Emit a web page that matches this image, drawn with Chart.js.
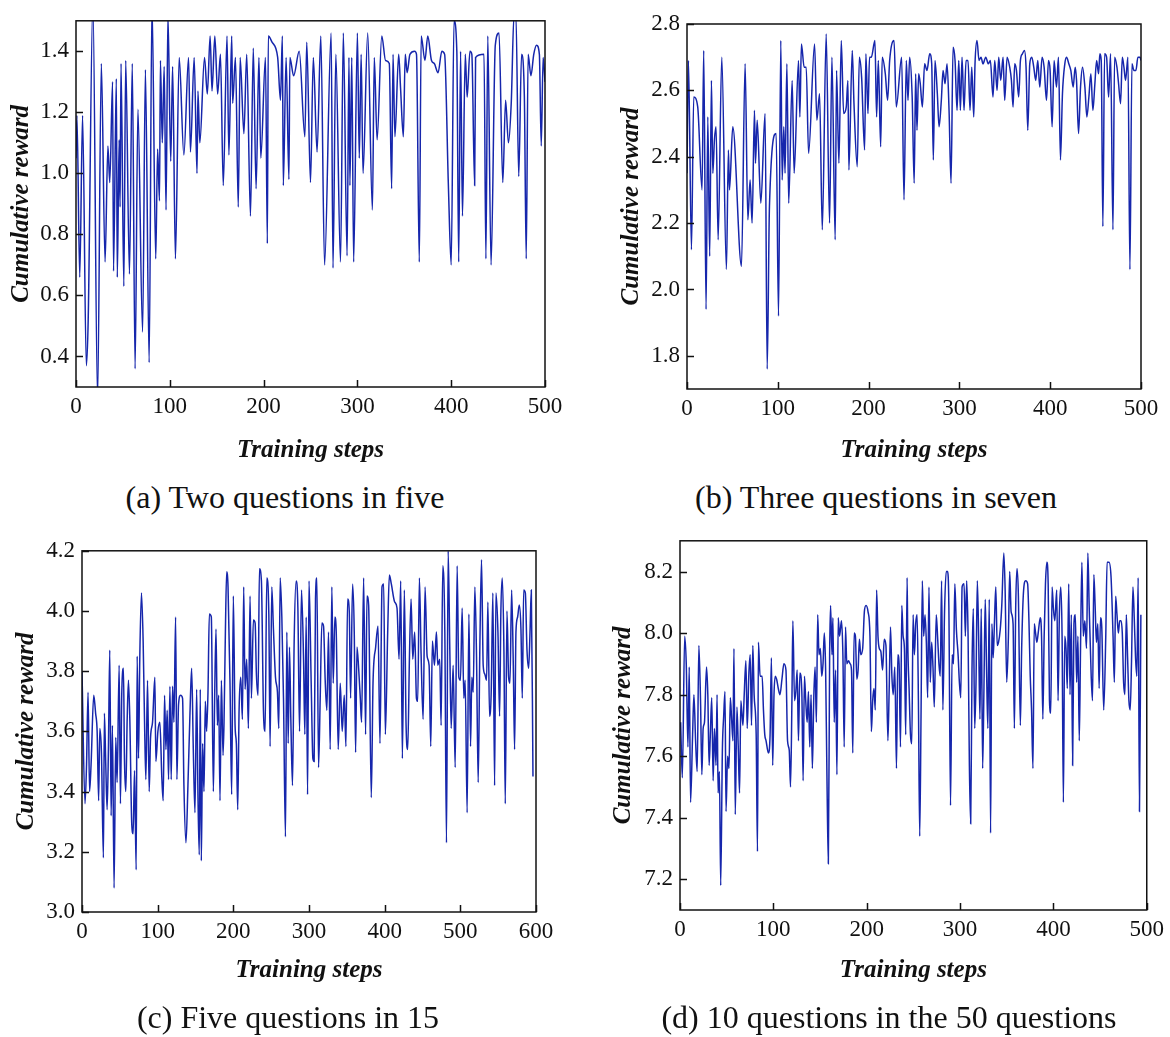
<!DOCTYPE html>
<html>
<head>
<meta charset="utf-8">
<script src="https://cdn.jsdelivr.net/npm/chart.js@4.4.1/dist/chart.umd.min.js"></script>
<style>
  html, body { margin: 0; padding: 0; background: #fff; }
  #page { position: relative; width: 1170px; height: 1037px; overflow: hidden; }
  .panel { position: absolute; }
  .caption {
    position: absolute; width: 600px; height: 34px; line-height: 34px;
    text-align: center; font-family: 'Liberation Serif', 'Times New Roman', serif;
    font-size: 32px; color: #111; white-space: nowrap;
  }
</style>
</head>
<body>
<div id="page">
  <div class="panel" id="boxA" style="left:0px;top:0px;width:585px;height:470px;"><canvas id="chartA"></canvas></div>
  <div class="panel" id="boxB" style="left:600px;top:0px;width:570px;height:470px;"><canvas id="chartB"></canvas></div>
  <div class="panel" id="boxC" style="left:0px;top:530px;width:585px;height:470px;"><canvas id="chartC"></canvas></div>
  <div class="panel" id="boxD" style="left:600px;top:520px;width:570px;height:475px;"><canvas id="chartD"></canvas></div>

  <div class="caption" style="left:-15px;top:480px;">(a) Two questions in five</div>
  <div class="caption" style="left:576px;top:480px;">(b) Three questions in seven</div>
  <div class="caption" style="left:-12px;top:1000px;">(c) Five questions in 15</div>
  <div class="caption" style="left:589px;top:1000px;">(d) 10 questions in the 50 questions</div>
</div>

<script>
'use strict';

// ---- data ----

// (a) Two questions in five
const stepsA = [
  0, 1, 4, 7, 11, 13, 18, 23, 27, 31,
  34, 36, 39, 40, 43, 44, 46, 47, 48, 51,
  53, 57, 60, 63, 66, 71, 74, 78, 81, 85,
  87, 89, 90, 92, 94, 96, 98, 101, 103, 106,
  110, 115, 120, 122, 126, 129, 130, 132, 137, 140,
  143, 145, 148, 151, 154, 157, 161, 163, 166, 167,
  170, 173, 175, 179, 182, 186, 189, 192, 195, 197,
  202, 204, 205, 209, 215, 218, 220, 221, 224, 227,
  228, 232, 238, 244, 246, 250, 253, 257, 261, 265,
  272, 274, 277, 282, 285, 289, 291, 292, 294, 296,
  300, 302, 304, 306, 311, 316, 318, 321, 326, 330,
  334, 336.5, 338, 340, 344, 346, 349, 351, 353, 356,
  361, 363, 366, 368, 372, 375, 379, 382, 386, 390,
  393, 397, 400, 403, 406, 408, 410, 412, 415, 417,
  420, 422, 425, 426, 435, 437, 439, 442.5, 447, 451,
  455, 458, 461, 464, 467, 469, 472, 475, 478, 480,
  482, 485, 488, 491, 494, 496, 498, 500
];
const rewardA = [
  1.05, 1.19, 0.66, 1.19, 0.37, 0.52, 1.56, 0.26, 1.36, 0.71,
  1.09, 0.97, 1.30, 0.68, 1.31, 0.66, 1.11, 0.89, 1.36, 0.63,
  1.37, 0.67, 1.36, 0.36, 1.21, 0.48, 1.34, 0.38, 1.56, 0.72,
  1.08, 0.91, 1.37, 1.10, 1.35, 0.88, 1.52, 1.04, 1.35, 0.72,
  1.38, 1.06, 1.38, 1.07, 1.38, 1.00, 1.27, 1.10, 1.38, 1.26,
  1.45, 1.27, 1.45, 1.26, 1.39, 0.96, 1.45, 1.06, 1.45, 1.23,
  1.38, 0.89, 1.38, 1.13, 1.39, 0.86, 1.41, 0.95, 1.38, 1.05,
  1.38, 0.77, 1.45, 1.43, 1.38, 1.24, 1.45, 0.96, 1.38, 0.98,
  1.38, 1.32, 1.40, 1.12, 1.43, 0.97, 1.38, 1.07, 1.45, 0.70,
  1.46, 0.69, 1.39, 0.71, 1.46, 0.73, 1.38, 0.96, 1.38, 0.71,
  1.46, 1.05, 1.39, 1.00, 1.46, 0.88, 1.38, 1.11, 1.45, 1.37,
  1.36, 0.95, 1.39, 1.12, 1.39, 1.28, 1.12, 1.39, 1.33, 1.39,
  1.40, 1.39, 0.71, 1.45, 1.37, 1.45, 1.37, 1.36, 1.33, 1.40,
  1.39, 0.96, 0.70, 1.50, 1.40, 0.71, 1.40, 0.86, 1.39, 1.25,
  1.40, 1.39, 0.96, 1.38, 1.39, 0.72, 1.45, 0.70, 1.42, 1.46,
  0.97, 1.24, 1.10, 1.23, 1.52, 1.52, 0.99, 1.39, 1.25, 0.72,
  1.39, 1.32, 1.39, 1.42, 1.39, 1.09, 1.38, 1.30
];

// (b) Three questions in seven
const stepsB = [
  0, 1.6, 4.9, 7.4, 11.8, 16.6, 18.4, 21, 22.9, 25,
  26.9, 28.4, 30.2, 32, 34.3, 38.3, 43.4, 45.6, 46.8, 50.4,
  60, 64, 67, 69.5, 71.7, 74.3, 75.4, 77.3, 81.3, 86,
  88.3, 90.8, 98.2, 100.8, 103.3, 104.8, 106.6, 108, 110, 112,
  115.8, 118, 122.8, 124.3, 126, 129, 131.3, 133.9, 140.5, 143,
  146, 149, 153.3, 157, 159.6, 163.2, 164.7, 167.3, 169.9, 172.5,
  175.4, 177.2, 178.3, 182, 183.9, 187.5, 189.8, 192.3, 195.6, 197,
  199.3, 201, 203, 207, 208.8, 210.7, 213.3, 215, 218.4, 220.9,
  223.2, 228, 230.5, 236.4, 239, 241.5, 243.4, 245.2, 248, 250.2,
  251.8, 253.3, 255.1, 256.9, 259.2, 261.7, 264.3, 267.3, 269.5, 271.3,
  273.1, 275.7, 277.6, 280.1, 282, 284.2, 286.4, 288.6, 290.8, 293,
  295.2, 297.4, 299.3, 301.1, 302.9, 305.1, 307.3, 309.5, 311.7, 313.6,
  315.8, 317.2, 319.4, 321.6, 323.8, 326, 329, 331.9, 334.1, 337,
  338.9, 341.5, 343.3, 345.5, 348.1, 349.9, 352.5, 355.4, 357.3, 359.1,
  360.9, 362.8, 365.3, 367.2, 369.4, 371.6, 373.4, 375.3, 377.5, 379.7,
  381.9, 384.1, 386.3, 388.5, 391.1, 393.3, 395.9, 398.1, 399.9, 402.1,
  404.3, 406.9, 409.1, 411.3, 413.5, 416.1, 418, 420.5, 422.7, 425.3,
  427.5, 429, 431.2, 433.4, 435.6, 438.2, 440.4, 442.6, 444.8, 447,
  449.2, 451.1, 453.3, 454.7, 456.2, 458, 459.9, 462.1, 464.3, 466.5,
  469.1, 470.9, 473.5, 475.3, 477.5, 479.4, 481.2, 483, 485.6, 487.8,
  490, 492.2, 494.4, 496.6, 498.8, 500
];
const rewardB = [
  2.35, 2.69, 2.12, 2.58, 2.55, 2.30, 2.72, 1.94, 2.52, 2.10,
  2.63, 2.35, 2.45, 2.49, 2.15, 2.70, 2.06, 2.42, 2.30, 2.49,
  2.07, 2.68, 2.21, 2.33, 2.20, 2.54, 2.38, 2.51, 2.26, 2.53,
  1.76, 2.25, 2.47, 1.92, 2.75, 2.33, 2.49, 2.35, 2.68, 2.26,
  2.63, 2.35, 2.69, 2.52, 2.74, 2.67, 2.67, 2.41, 2.74, 2.51,
  2.59, 2.18, 2.77, 2.20, 2.70, 2.15, 2.66, 2.38, 2.75, 2.53,
  2.55, 2.63, 2.36, 2.72, 2.56, 2.37, 2.70, 2.64, 2.42, 2.71,
  2.53, 2.70, 2.70, 2.75, 2.52, 2.69, 2.43, 2.70, 2.65, 2.57,
  2.69, 2.75, 2.55, 2.70, 2.27, 2.69, 2.57, 2.70, 2.58, 2.32,
  2.65, 2.48, 2.65, 2.62, 2.55, 2.68, 2.66, 2.71, 2.68, 2.39,
  2.69, 2.59, 2.49, 2.57, 2.66, 2.62, 2.68, 2.54, 2.32, 2.73,
  2.69, 2.54, 2.69, 2.54, 2.70, 2.54, 2.69, 2.69, 2.54, 2.67,
  2.52, 2.68, 2.75, 2.69, 2.70, 2.68, 2.70, 2.68, 2.69, 2.58,
  2.69, 2.60, 2.70, 2.63, 2.70, 2.57, 2.70, 2.67, 2.63, 2.55,
  2.68, 2.66, 2.58, 2.69, 2.71, 2.72, 2.67, 2.48, 2.68, 2.70,
  2.67, 2.63, 2.69, 2.61, 2.70, 2.67, 2.57, 2.69, 2.66, 2.49,
  2.69, 2.61, 2.70, 2.39, 2.59, 2.68, 2.70, 2.68, 2.66, 2.61,
  2.67, 2.63, 2.47, 2.61, 2.67, 2.61, 2.52, 2.58, 2.65, 2.54,
  2.62, 2.69, 2.65, 2.71, 2.69, 2.19, 2.71, 2.70, 2.58, 2.71,
  2.18, 2.70, 2.67, 2.62, 2.56, 2.70, 2.67, 2.63, 2.70, 2.06,
  2.68, 2.66, 2.66, 2.70, 2.70, 2.69
];

// (c) Five questions in 15
const stepsC = [
  0, 4, 6, 8, 10, 12, 15.5, 18, 20, 22,
  23.5, 25.7, 28.3, 29.6, 31.4, 33.2, 34.9, 36.7, 38.5, 40.2,
  42.4, 44.6, 46.4, 49.1, 50.8, 52.6, 54.8, 56.1, 57.9, 59.7,
  61.4, 63.2, 65.8, 67.6, 69.4, 71.6, 72.9, 74.7, 76.4, 78.6,
  80.8, 82.6, 84.4, 86.6, 88.8, 90.6, 93.2, 96.3, 97.6, 100.3,
  102.9, 105.6, 107.3, 109.1, 110.9, 112.6, 114.4, 116.2, 117.9, 119.7,
  121.5, 123.7, 125.4, 127.6, 130.3, 132.9, 134.7, 137.4, 140, 142.7,
  144.9, 147.1, 149.3, 151.5, 153.3, 155, 156.3, 157.7, 159.4, 161.2,
  163, 164.7, 166.5, 168.3, 170.9, 173.6, 175.3, 177.1, 178.9, 180.6,
  182.4, 184.2, 186.4, 187.7, 189.5, 191.2, 193, 195.6, 197.8, 200,
  202.3, 204, 205.8, 207.6, 209.8, 212, 213.7, 215.5, 217.7, 219.9,
  222.1, 223.9, 226.5, 228.8, 230.5, 232.7, 234.5, 237.1, 239.8, 242,
  244.2, 246.9, 248.6, 250.8, 253, 255.7, 258.3, 260.1, 261.9, 264.1,
  266.3, 268.9, 270.7, 272.5, 274.2, 276, 278.2, 280.4, 283, 285.3,
  287.5, 290.1, 292.8, 294.5, 296.3, 298.1, 300,
  302.9, 305.1, 306.8, 308.6, 310.4, 312.6, 314.8, 317, 319.2, 321.4,
  323.6, 325.8, 328, 330.2, 332, 334.2, 336, 338.6, 341.3, 343.9,
  346.6, 348.8, 351, 353.2, 355, 357.6, 359.8, 361.6, 363.4, 365.6,
  367.8, 369.5, 372.2, 374.8, 376.6, 378.8, 382.3, 384.6, 388.1, 391.2,
  393.8, 396.5, 398.7, 400.9, 404, 406.2, 408.8, 413.2, 416.3, 419,
  421.2, 423.4, 426, 428.3, 430.5, 432.7, 434.9, 437.1, 439.7, 442,
  443.7, 445.9, 448.1, 450.8, 453.4, 456.1, 458.7, 460.9, 463.1, 465.8,
  468.4, 470.2, 472.8, 474.6, 476.8, 479.5, 481.7, 483.9, 486.1, 487.9,
  490.5, 493.2, 495.8, 498, 500.2, 502.4, 504.6, 506.4, 509, 511.3,
  513.5, 515.2, 517, 519.2, 521.4, 523.6, 525.8, 528, 530.2, 532.4,
  534.7, 536.4, 538.6, 540.8, 543, 545.3, 547, 549.7, 551.9, 553.6,
  555.4, 557.6, 559.4, 561.6, 563.8, 565.6, 567.8, 570, 571.7, 573.5,
  575.7, 577.9, 580.1, 581.9, 583.7, 585.9, 588.1, 590.3, 592.1, 593.8,
  596
];
const rewardC = [
  3.80, 3.36, 3.49, 3.73, 3.40, 3.49, 3.72, 3.66, 3.60, 3.37,
  3.61, 3.53, 3.18, 3.66, 3.49, 3.34, 3.54, 3.87, 3.32, 3.62,
  3.08, 3.58, 3.43, 3.82, 3.36, 3.73, 3.81, 3.51, 3.40, 3.64,
  3.77, 3.64, 3.29, 3.26, 3.47, 3.14, 3.85, 3.51, 3.85, 4.06,
  3.90, 3.64, 3.44, 3.77, 3.40, 3.58, 3.63, 3.78, 3.50, 3.60,
  3.63, 3.44, 3.37, 3.72, 3.54, 3.67, 3.44, 3.75, 3.44, 3.75,
  3.63, 3.98, 3.44, 3.69, 3.72, 3.71, 3.42, 3.23, 3.42, 3.66,
  3.81, 3.54, 3.33, 3.74, 3.38, 3.19, 3.74, 3.17, 3.56, 3.40,
  3.70, 3.60, 3.73, 3.99, 3.98, 3.40, 3.71, 3.94, 3.62, 3.72,
  3.37, 3.77, 3.52, 3.63, 3.93, 4.13, 4.08, 3.76, 3.39, 4.05,
  3.62, 3.56, 3.34, 3.67, 3.78, 3.64, 4.08, 3.74, 3.84, 3.61,
  4.05, 3.71, 3.97, 3.96, 3.79, 3.72, 4.14, 4.10, 3.67, 3.60,
  4.11, 3.99, 3.55, 4.08, 3.94, 3.78, 3.73, 3.61, 4.11, 3.98,
  3.71, 3.25, 3.93, 3.56, 3.88, 3.64, 3.42, 3.90, 4.10, 4.01,
  3.60, 4.07, 3.84, 3.59, 3.98, 3.39, 4.10,
  3.76, 3.51, 3.50, 4.04, 4.11, 3.48, 3.71, 3.96, 3.95, 3.77,
  3.67, 3.93, 3.54, 4.08, 3.76, 3.98, 3.93, 3.54, 3.76, 3.60,
  3.72, 3.55, 4.04, 4.00, 3.71, 4.09, 3.93, 3.53, 3.88, 3.81,
  3.71, 3.63, 4.11, 3.59, 4.05, 4.02, 3.38, 3.76, 3.88, 3.95,
  3.56, 4.08, 4.09, 3.59, 3.93, 4.12, 4.09, 4.03, 4.01, 3.84,
  4.10, 3.51, 4.07, 3.62, 3.54, 3.84, 4.04, 3.84, 3.93, 3.71,
  3.70, 4.11, 3.86, 3.64, 4.08, 3.85, 3.82, 3.55, 3.90, 3.82,
  3.93, 3.82, 3.84, 3.62, 4.15, 3.93, 3.23, 4.20, 3.87, 3.61,
  3.82, 3.48, 4.15, 3.78, 3.77, 4.01, 3.71, 3.77, 3.33, 3.99,
  3.55, 3.78, 3.73, 4.08, 3.85, 3.43, 3.88, 4.17, 3.82, 3.79,
  3.77, 4.03, 3.65, 3.73, 4.06, 3.42, 4.06, 3.93, 3.65, 4.00,
  4.11, 3.87, 3.36, 4.00, 3.78, 3.76, 4.07, 3.82, 3.54, 3.93,
  3.98, 4.02, 3.94, 3.71, 4.07, 4.06, 3.87, 3.81, 3.93, 4.07,
  3.45
];

// (d) 10 questions in the 50 questions
const stepsD = [
  0.7, 2.5, 5, 6.7, 8.5, 9.9, 11.3, 13.5, 14.9, 16.7,
  18.4, 20.2, 22, 23.4, 24.8, 26.2, 28.4, 29.8, 31.2, 32.6,
  34, 35.5, 36.9, 38.6, 39.7, 40.8, 42.2, 43.6, 45.4, 46.8,
  48.2, 49.3, 51, 52.5, 53.9, 55.3, 56.7, 57.8, 59.2, 61,
  62.4, 63.8, 65.2, 67.4, 68.8, 70.6, 72, 73.8, 75.2, 76.6,
  78, 79.4, 81.6, 83, 84, 85.8, 88, 89.4, 90.8, 92.2,
  94.7, 96.5, 97.9, 99.3, 100.7, 102.1, 103.5, 105.3, 107.1, 109.2,
  111.3, 113.5, 115.2, 117, 118.4, 119.9, 120.9, 122.7, 124.1, 125.5,
  126.9, 128.4, 130.5, 131.9, 133.3, 134.7, 136.2, 137.6, 139, 140.4,
  141.8, 143.3, 144.7, 146.1, 147.5, 148.9, 150.4, 151.8, 153.2, 154.6,
  156, 157.4, 158.9, 160.3, 161.3, 162.8, 163.8, 165.2, 166.7, 168.1,
  169.5, 170.9, 173, 174.5, 175.9, 177.3, 178.7, 180.5, 182.3, 183.7,
  185.1, 186.5, 187.9, 189.4, 190.8, 192.2, 193.6, 195.7, 197.5, 199.3,
  201.4, 203.5, 205, 206.4, 207.8, 209.2, 210.6, 212.1, 213.5, 215.2,
  217, 218.8, 220.6, 222.7, 224.1, 225.5, 227, 228.4, 230.1, 231.9,
  233.3, 234.7, 236.2, 237.6, 239, 240.4, 241.8, 243.3,
  244, 245.4, 246.9, 248.3, 249.7, 251.1, 252.5, 254, 255.4, 256.8,
  258.2, 259.6, 261, 262.5, 263.9, 265.3, 266.7, 268.1, 269.6, 271,
  272.4, 274.5, 275.9, 277.4, 278.8, 280.2, 281.6, 283.4, 285.2, 286.6,
  288, 289.8, 291.5, 293, 294.4, 296.1, 297.9, 299.3, 300.8, 302.2,
  304.3, 305.7, 307.1, 308.6, 310, 311.4, 312.8, 314.2, 315.7, 317.1,
  318.5, 319.9, 321.3, 322.7, 324.2, 325.6, 327, 328.4, 329.8, 331.3,
  332.7, 334.1, 335.5, 336.9, 338.3, 339.8, 341.2, 343, 344.7, 346.9,
  348.3, 350, 351.8, 353.2, 354.7, 356.8, 358.2, 359.6, 361, 362.5,
  364.6, 366, 368.1, 370.3, 372.4, 373.8, 375.2, 376.6, 378.1, 379.5,
  380.9, 382.3, 383.7, 385.9, 387.3, 388.7, 390.1, 391.5, 393, 394.4,
  395.8, 397.2, 398.6, 400, 401.5, 403.6, 405, 406.4, 407.9, 409.3,
  410.7, 412.1, 413.5, 414.9, 416.4, 417.8, 419.2, 420.6, 422, 423.5,
  424.9, 426.3, 427.7, 429.1, 430.5, 432, 433.7, 435.5, 436.9, 438.3,
  440.5, 441.9, 443.3, 444.7, 446.1, 447.6, 449, 450.4, 451.8, 453.9,
  456.1, 457.5, 459.6, 461.8, 463.9, 465.3, 466.7, 468.1, 469.6, 471,
  472.4, 473.8, 475.2, 476.6, 478.1, 479.5, 480.9, 482.3, 483.7, 485.2,
  486.6, 488, 489.4, 490.8, 492.2, 493.7
];
const rewardD = [
  7.71, 7.53, 7.99, 7.90, 7.63, 7.89, 7.45, 7.67, 7.80, 7.65,
  7.55, 7.96, 7.78, 7.54, 7.69, 7.71, 7.89, 7.80, 7.57, 7.68,
  7.79, 7.52, 7.69, 7.57, 7.80, 7.48, 7.55, 7.18, 7.62, 7.73,
  7.81, 7.42, 7.60, 7.56, 7.79, 7.72, 7.65, 7.95, 7.41, 7.76,
  7.63, 7.48, 7.78, 7.70, 7.80, 7.91, 7.69, 7.87, 7.93, 7.70,
  7.96, 7.80, 7.67, 7.29, 7.97, 7.86, 7.86, 7.75, 7.67, 7.65,
  7.61, 7.67, 7.92, 7.57, 7.80, 7.86, 7.85, 7.82, 7.80, 7.85,
  7.90, 7.88, 7.65, 7.62, 7.50, 7.78, 8.04, 7.78, 7.81, 7.88,
  7.65, 7.87, 7.81, 7.52, 7.86, 7.78, 7.71, 7.81, 7.63, 7.80,
  7.56, 7.79, 7.89, 7.71, 8.06, 7.93, 7.95, 7.86, 7.90, 8.00,
  7.88, 7.54, 7.25, 7.93, 8.09, 7.93, 8.05, 7.71, 7.88, 7.54,
  8.05, 7.99, 8.04, 7.93, 7.63, 8.02, 7.90, 7.91, 7.90, 7.88,
  7.61, 8.00, 7.99, 7.85, 7.88, 7.98, 7.93, 7.95, 8.07, 8.09,
  8.07, 7.99, 7.68, 7.78, 7.82, 7.75, 8.14, 7.99, 7.95, 7.94,
  7.88, 7.98, 7.96, 7.65, 7.82, 8.02, 7.86, 7.80, 7.89, 7.56,
  7.93, 7.90, 7.63, 8.09, 7.99, 7.95, 7.67, 8.18,
  7.97, 7.82, 7.67, 7.64, 8.06, 7.93, 8.03, 8.06, 7.78, 7.34,
  7.73, 8.17, 7.99, 8.06, 7.97, 7.79, 8.15, 7.84, 7.97, 7.89,
  7.76, 8.06, 7.99, 7.90, 7.86, 8.17, 7.75, 8.07, 8.20, 8.20,
  8.09, 7.44, 7.93, 7.90, 8.16, 8.01, 7.93, 7.84, 7.79, 8.15,
  8.16, 7.99, 8.17, 7.99, 7.57, 7.38, 7.88, 8.08, 7.69, 7.84,
  8.17, 7.99, 7.72, 8.08, 7.56, 7.82, 8.11, 7.88, 7.69, 8.11,
  7.35, 8.03, 7.92, 8.04, 8.15, 7.96, 7.97, 8.01, 8.09, 8.26,
  8.14, 7.84, 7.99, 8.20, 8.07, 8.03, 7.69, 8.08, 8.21, 8.12,
  7.70, 7.95, 8.14, 8.17, 8.16, 8.04, 7.86, 7.75, 7.56, 8.03,
  8.00, 7.97, 8.00, 8.05, 7.99, 7.72, 7.99, 8.16, 8.23, 8.16,
  7.78, 7.74, 8.15, 8.08, 8.04, 8.14, 7.78, 8.06, 8.15, 7.99,
  7.45, 7.99, 7.95, 7.82, 8.16, 7.80, 8.06, 7.57, 8.03, 8.06,
  7.84, 7.99, 7.65, 7.96, 8.23, 7.99, 8.04, 7.95, 8.26, 8.09,
  7.86, 7.78, 8.19, 8.09, 7.97, 8.03, 7.82, 8.05, 8.02, 7.75,
  7.99, 8.23, 8.23, 8.18, 7.99, 7.84, 8.12, 8.06, 8.00, 8.04,
  8.04, 8.00, 7.84, 7.80, 8.06, 7.92, 7.78, 7.75, 7.91, 8.15,
  8.05, 7.92, 7.86, 8.18, 7.42, 8.06
];

// tick values
const xTicks500 = [0, 100, 200, 300, 400, 500];
const xTicks600 = [0, 100, 200, 300, 400, 500, 600];
const yTicksA = [0.4, 0.6, 0.8, 1.0, 1.2, 1.4];
const yTicksB = [1.8, 2.0, 2.2, 2.4, 2.6, 2.8];
const yTicksC = [3.0, 3.2, 3.4, 3.6, 3.8, 4.0, 4.2];
const yTicksD = [7.2, 7.4, 7.6, 7.8, 8.0, 8.2];

// ---- drawing ----

const SERIF = "'Liberation Serif', 'Times New Roman', serif";
const LINE_BLUE = '#1626ac';

// box around the plot and tick marks pointing inward
const frameTicks = {
  id: 'frameTicks',
  afterDatasetsDraw(chart) {
    const ctx = chart.ctx;
    const a = chart.chartArea;
    const x = chart.scales.x;
    const y = chart.scales.y;
    ctx.save();
    ctx.strokeStyle = '#111';
    ctx.lineWidth = 1.5;
    ctx.strokeRect(a.left, a.top, a.right - a.left, a.bottom - a.top);
    ctx.beginPath();
    x.ticks.forEach(t => {
      const px = Math.round(x.getPixelForValue(t.value)) + 0.5;
      ctx.moveTo(px, a.bottom);
      ctx.lineTo(px, a.bottom - 7);
    });
    y.ticks.forEach(t => {
      const py = Math.round(y.getPixelForValue(t.value)) + 0.5;
      ctx.moveTo(a.left, py);
      ctx.lineTo(a.left + 7, py);
    });
    ctx.stroke();
    ctx.restore();
  }
};

const makeChart = (canvasId, steps, rewards, p) => {
  const points = steps.map((s, i) => ({x: s, y: rewards[i]}));

  return new Chart(document.getElementById(canvasId), {
    type: 'line',
    data: {
      datasets: [{
        data: points,
        borderColor: LINE_BLUE,
        borderWidth: 1.5,
        pointRadius: 0,
        fill: false,
        cubicInterpolationMode: 'monotone'
      }]
    },
    options: {
      responsive: true,
      maintainAspectRatio: false,
      animation: false,
      layout: { padding: { top: p.padTop, right: p.padRight, left: 0, bottom: 0 } },
      plugins: { legend: { display: false }, tooltip: { enabled: false } },
      scales: {
        x: {
          type: 'linear',
          min: 0,
          max: p.xMax,
          afterBuildTicks: s => { s.ticks = p.xTicks.map(v => ({value: v})); },
          afterFit: s => { s.height = p.xHeight; },
          grid: { display: false, drawTicks: false },
          border: { display: false },
          ticks: {
            autoSkip: false, maxRotation: 0, padding: 6, color: '#111',
            font: { family: SERIF, size: 23 },
            callback: v => String(v)
          },
          title: {
            display: true, text: 'Training steps', color: '#111',
            font: { family: SERIF, size: 25, style: 'italic', weight: 'bold' },
            padding: { top: 0, bottom: p.xTitlePad }
          }
        },
        y: {
          min: p.yMin,
          max: p.yMax,
          afterBuildTicks: s => { s.ticks = p.yTicks.map(v => ({value: v})); },
          afterFit: s => { s.width = p.yWidth; },
          grid: { display: false, drawTicks: false },
          border: { display: false },
          ticks: {
            padding: 7, color: '#111',
            font: { family: SERIF, size: 23 },
            callback: v => Number(v).toFixed(1)
          },
          title: {
            display: true, text: 'Cumulative reward', color: '#111',
            font: { family: SERIF, size: 25, style: 'italic', weight: 'bold' },
            padding: { top: p.yTitlePad, bottom: 0 }
          }
        }
      }
    },
    plugins: [frameTicks]
  });
};

makeChart('chartA', stepsA, rewardA, {
  xMax: 500, xTicks: xTicks500, yMin: 0.3, yMax: 1.5, yTicks: yTicksA,
  padTop: 10, padRight: 40, yWidth: 76, xHeight: 83, xTitlePad: 4, yTitlePad: 7
});
makeChart('chartB', stepsB, rewardB, {
  xMax: 500, xTicks: xTicks500, yMin: 1.7, yMax: 2.8, yTicks: yTicksB,
  padTop: 24, padRight: 29, yWidth: 87, xHeight: 81, xTitlePad: 4, yTitlePad: 17
});
makeChart('chartC', stepsC, rewardC, {
  xMax: 600, xTicks: xTicks600, yMin: 3.0, yMax: 4.2, yTicks: yTicksC,
  padTop: 16, padRight: 49, yWidth: 82, xHeight: 88, xTitlePad: 14, yTitlePad: 12
});
makeChart('chartD', stepsD, rewardD, {
  xMax: 500, xTicks: xTicks500, yMin: 7.1, yMax: 8.3, yTicks: yTicksD,
  padTop: 12, padRight: 21, yWidth: 80, xHeight: 85, xTitlePad: 9, yTitlePad: 9
});
</script>
</body>
</html>
